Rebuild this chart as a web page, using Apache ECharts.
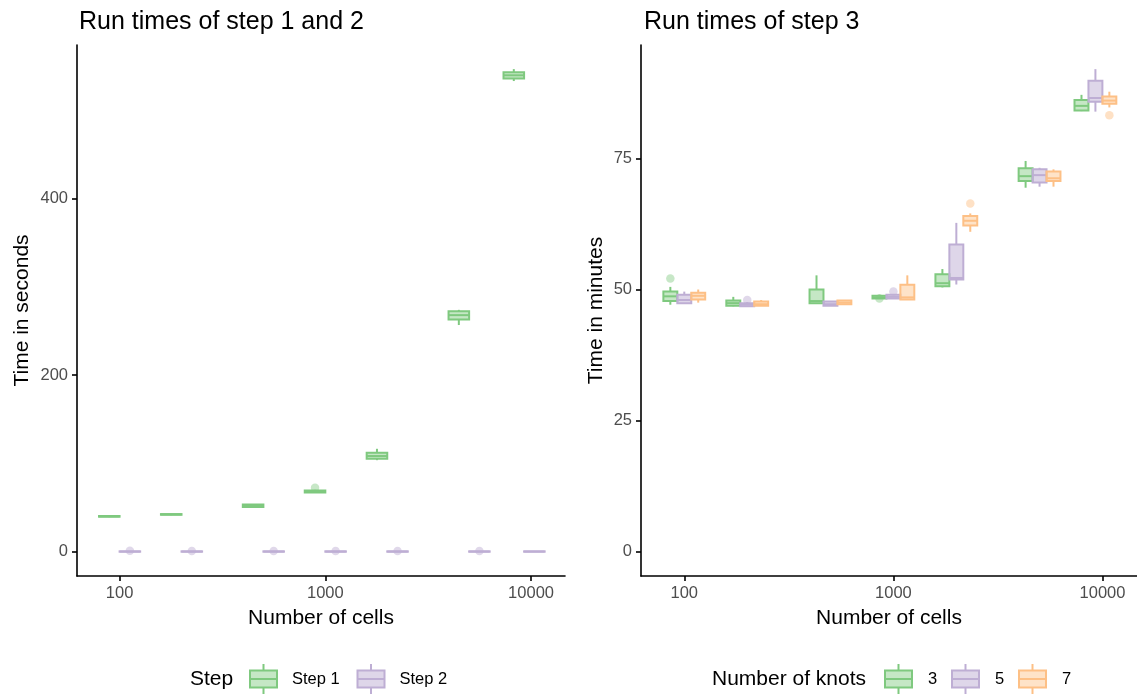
<!DOCTYPE html>
<html>
<head>
<meta charset="utf-8">
<script src="https://cdn.jsdelivr.net/npm/echarts@6/dist/echarts.min.js"></script>
<style>
html,body{margin:0;padding:0;background:#fff;}
#c{width:1137px;height:697px;}
</style>
</head>
<body>
<div id="c"></div>
<script>
// ---------------- DATA ----------------
const cells = [100, 200, 500, 1000, 2000, 5000, 9250];
const xTicks = [100, 1000, 10000];
const yTicksLeft = [0, 200, 400];
const yTicksRight = [0, 25, 50, 75];

// [min, q1, median, q3, max] per cell count (seconds)
const step1 = [
  [39.3, 39.8, 40.2, 40.6, 41.0],
  [41.5, 42.0, 42.4, 42.8, 43.2],
  [50.5, 50.8, 52.0, 53.5, 53.8],
  [66.8, 67.2, 68.2, 69.5, 70.2],
  [103.8, 105.4, 108.5, 112.2, 116.7],
  [256.8, 263.0, 268.0, 272.5, 274.0],
  [533.0, 536.0, 539.5, 543.0, 546.5]
];
const step1Out = [[3, 72.5]];
const step2 = [
  [0.0, 0.2, 0.4, 0.6, 0.9],
  [0.0, 0.2, 0.4, 0.6, 0.9],
  [0.0, 0.2, 0.4, 0.6, 0.9],
  [0.0, 0.2, 0.4, 0.6, 0.9],
  [0.0, 0.2, 0.4, 0.6, 0.9],
  [0.0, 0.2, 0.4, 0.6, 0.9],
  [0.0, 0.2, 0.4, 0.6, 0.9]
];
const step2Out = [[0, 1.2], [1, 1.0], [2, 1.0], [3, 1.0], [4, 1.0], [5, 1.0]];

// minutes, by number of knots
const knots3 = [
  [47.1, 47.8, 48.7, 49.6, 50.5],
  [46.8, 46.9, 47.4, 47.9, 48.6],
  [47.3, 47.4, 47.8, 50.0, 52.7],
  [48.2, 48.3, 48.5, 48.8, 49.0],
  [50.4, 50.6, 51.2, 52.9, 53.9],
  [69.4, 70.7, 71.6, 73.1, 74.5],
  [84.0, 84.1, 85.0, 86.1, 87.1]
];
const knots3Out = [[0, 52.1], [3, 48.3]];
const knots5 = [
  [47.3, 47.4, 48.0, 49.0, 49.6],
  [46.8, 46.8, 47.1, 47.4, 47.6],
  [46.9, 46.9, 47.2, 47.7, 47.8],
  [48.3, 48.3, 48.6, 49.0, 49.1],
  [50.95, 51.9, 52.2, 58.6, 62.7],
  [69.6, 70.4, 71.8, 72.9, 73.2],
  [83.9, 85.8, 86.5, 89.8, 92.0]
];
const knots5Out = [[1, 48.0], [3, 49.6]];
const knots7 = [
  [47.5, 48.1, 48.8, 49.4, 50.0],
  [46.9, 46.9, 47.2, 47.7, 48.0],
  [47.2, 47.2, 47.5, 47.9, 48.0],
  [48.1, 48.1, 48.5, 50.9, 52.7],
  [61.0, 62.2, 63.1, 64.0, 64.5],
  [69.6, 70.7, 71.2, 72.5, 72.9],
  [84.7, 85.4, 86.0, 86.8, 87.7]
];
const knots7Out = [[4, 66.4], [6, 83.2]];

const stepNames = ['Step 1', 'Step 2'];
const knotNames = ['3', '5', '7'];

// ---------------- STYLE ----------------
const FONT = '"Liberation Sans", Arial, Helvetica, sans-serif';
const colors = ['#7FC97F', '#BEAED4', '#FDC086'];
const fills = ['rgba(127,201,127,0.45)', 'rgba(190,174,212,0.5)', 'rgba(253,192,134,0.45)'];
const ptFills = ['rgba(127,201,127,0.55)', 'rgba(190,174,212,0.6)', 'rgba(253,192,134,0.6)'];
const DODGE = 0.2; // total dodge width in log10 units
const LW = 2;

function boxSeries(name, stats, idx, n, axisIdx) {
  const bw = DODGE / n;
  const data = stats.map((s, i) => [Math.log10(cells[i]) + (idx - (n - 1) / 2) * bw].concat(s));
  return {
    type: 'custom', name: name, xAxisIndex: axisIdx, yAxisIndex: axisIdx, z: 3,
    data: data, encode: { x: 0, y: [1, 2, 3, 4, 5] }, clip: false,
    renderItem: function (params, api) {
      const x = api.value(0);
      const mn = api.value(1), q1 = api.value(2), md = api.value(3), q3 = api.value(4), mx = api.value(5);
      const tl = api.coord([x - bw / 2, q3]);
      const br = api.coord([x + bw / 2, q1]);
      const pMin = api.coord([x, mn]);
      const pMax = api.coord([x, mx]);
      const pMed = api.coord([x, md]);
      const st = { stroke: colors[idx], lineWidth: LW };
      return {
        type: 'group',
        children: [
          { type: 'line', shape: { x1: pMax[0], y1: pMax[1], x2: pMax[0], y2: tl[1] }, style: st },
          { type: 'line', shape: { x1: pMin[0], y1: br[1], x2: pMin[0], y2: pMin[1] }, style: st },
          { type: 'rect', shape: { x: tl[0], y: tl[1], width: br[0] - tl[0], height: br[1] - tl[1] },
            style: { fill: fills[idx], stroke: colors[idx], lineWidth: LW } },
          { type: 'line', shape: { x1: tl[0], y1: pMed[1], x2: br[0], y2: pMed[1] }, style: st }
        ]
      };
    }
  };
}
function outSeries(name, outs, idx, n, axisIdx) {
  const bw = DODGE / n;
  return {
    type: 'scatter', name: name + ' outliers', xAxisIndex: axisIdx, yAxisIndex: axisIdx, z: 2,
    symbol: 'circle', symbolSize: 8.5, silent: true,
    itemStyle: { color: ptFills[idx], borderWidth: 0 },
    data: outs.map(o => [Math.log10(cells[o[0]]) + (idx - (n - 1) / 2) * bw, o[1]])
  };
}

const xLogTicks = xTicks.map(v => Math.log10(v));
function xAxis(gi) {
  return {
    type: 'value', gridIndex: gi, min: 1.793, max: 4.165,
    name: 'Number of cells', nameLocation: 'middle', nameGap: 32,
    nameTextStyle: { fontSize: 21, color: '#000', fontFamily: FONT },
    axisLine: { show: true, onZero: false, lineStyle: { color: '#000', width: 1.6 } },
    axisTick: { show: true, length: 5, lineStyle: { color: '#000', width: 1.6 }, customValues: xLogTicks },
    axisLabel: { customValues: xLogTicks, margin: 9, fontSize: 16.5, color: '#4D4D4D', fontFamily: FONT,
      formatter: v => String(Math.round(Math.pow(10, v))) },
    splitLine: { show: false }
  };
}
function yAxis(gi, min, max, ticks, name, gap) {
  return {
    type: 'value', gridIndex: gi, min: min, max: max,
    name: name, nameLocation: 'middle', nameGap: gap,
    nameTextStyle: { fontSize: 21, color: '#000', fontFamily: FONT },
    axisLine: { show: true, onZero: false, lineStyle: { color: '#000', width: 1.6 } },
    axisTick: { show: true, length: 5, lineStyle: { color: '#000', width: 1.6 }, customValues: ticks },
    axisLabel: { customValues: ticks, margin: 9, fontSize: 16.5, color: '#4D4D4D', fontFamily: FONT },
    splitLine: { show: false }
  };
}

// legend graphics
function legendGlyph(x, yc, idx) {
  const w = 27, h = 17;
  const st = { stroke: colors[idx], lineWidth: LW };
  return {
    type: 'group', children: [
      { type: 'line', shape: { x1: x + w / 2, y1: yc - 15, x2: x + w / 2, y2: yc - h / 2 }, style: st },
      { type: 'line', shape: { x1: x + w / 2, y1: yc + h / 2, x2: x + w / 2, y2: yc + 15 }, style: st },
      { type: 'rect', shape: { x: x, y: yc - h / 2, width: w, height: h }, style: { fill: fills[idx], stroke: colors[idx], lineWidth: LW } },
      { type: 'line', shape: { x1: x, y1: yc, x2: x + w, y2: yc }, style: st }
    ]
  };
}
function txt(s, x, y, size) {
  return { type: 'text', style: { text: s, x: x, y: y, fontSize: size, fontFamily: FONT, fill: '#000', verticalAlign: 'middle' } };
}
const LEG_Y = 679;
const graphics = [];
graphics.push(txt('Step', 190, LEG_Y, 21));
stepNames.forEach((nm, i) => {
  const gx = 250 + i * 107.5;
  graphics.push(legendGlyph(gx, LEG_Y, i));
  graphics.push(txt(nm, gx + 42, LEG_Y, 16.5));
});
graphics.push(txt('Number of knots', 712, LEG_Y, 21));
knotNames.forEach((nm, i) => {
  const gx = 885 + i * 67;
  graphics.push(legendGlyph(gx, LEG_Y, i));
  graphics.push(txt(nm, gx + 43, LEG_Y, 16.5));
});

const series = [
  outSeries(stepNames[0], step1Out, 0, 2, 0),
  outSeries(stepNames[1], step2Out, 1, 2, 0),
  boxSeries(stepNames[0], step1, 0, 2, 0),
  boxSeries(stepNames[1], step2, 1, 2, 0),
  outSeries(knotNames[0], knots3Out, 0, 3, 1),
  outSeries(knotNames[1], knots5Out, 1, 3, 1),
  outSeries(knotNames[2], knots7Out, 2, 3, 1),
  boxSeries(knotNames[0], knots3, 0, 3, 1),
  boxSeries(knotNames[1], knots5, 1, 3, 1),
  boxSeries(knotNames[2], knots7, 2, 3, 1)
];

const chart = echarts.init(document.getElementById('c'), null, { renderer: 'canvas' });
chart.setOption({
  animation: false,
  backgroundColor: '#fff',
  textStyle: { fontFamily: FONT },
  title: [
    { text: 'Run times of step 1 and 2', left: 74, top: 5, textStyle: { fontSize: 25, fontWeight: 'normal', color: '#000', fontFamily: FONT } },
    { text: 'Run times of step 3', left: 639, top: 5, textStyle: { fontSize: 25, fontWeight: 'normal', color: '#000', fontFamily: FONT } }
  ],
  grid: [
    { left: 77, top: 45, width: 488, height: 531 },
    { left: 641, top: 45, width: 496, height: 531 }
  ],
  xAxis: [xAxis(0), xAxis(1)],
  yAxis: [
    yAxis(0, -27.3, 573.8, yTicksLeft, 'Time in seconds', 44),
    yAxis(1, -4.6, 96.6, yTicksRight, 'Time in minutes', 34)
  ],
  series: series,
  graphic: graphics
});
</script>
</body>
</html>
